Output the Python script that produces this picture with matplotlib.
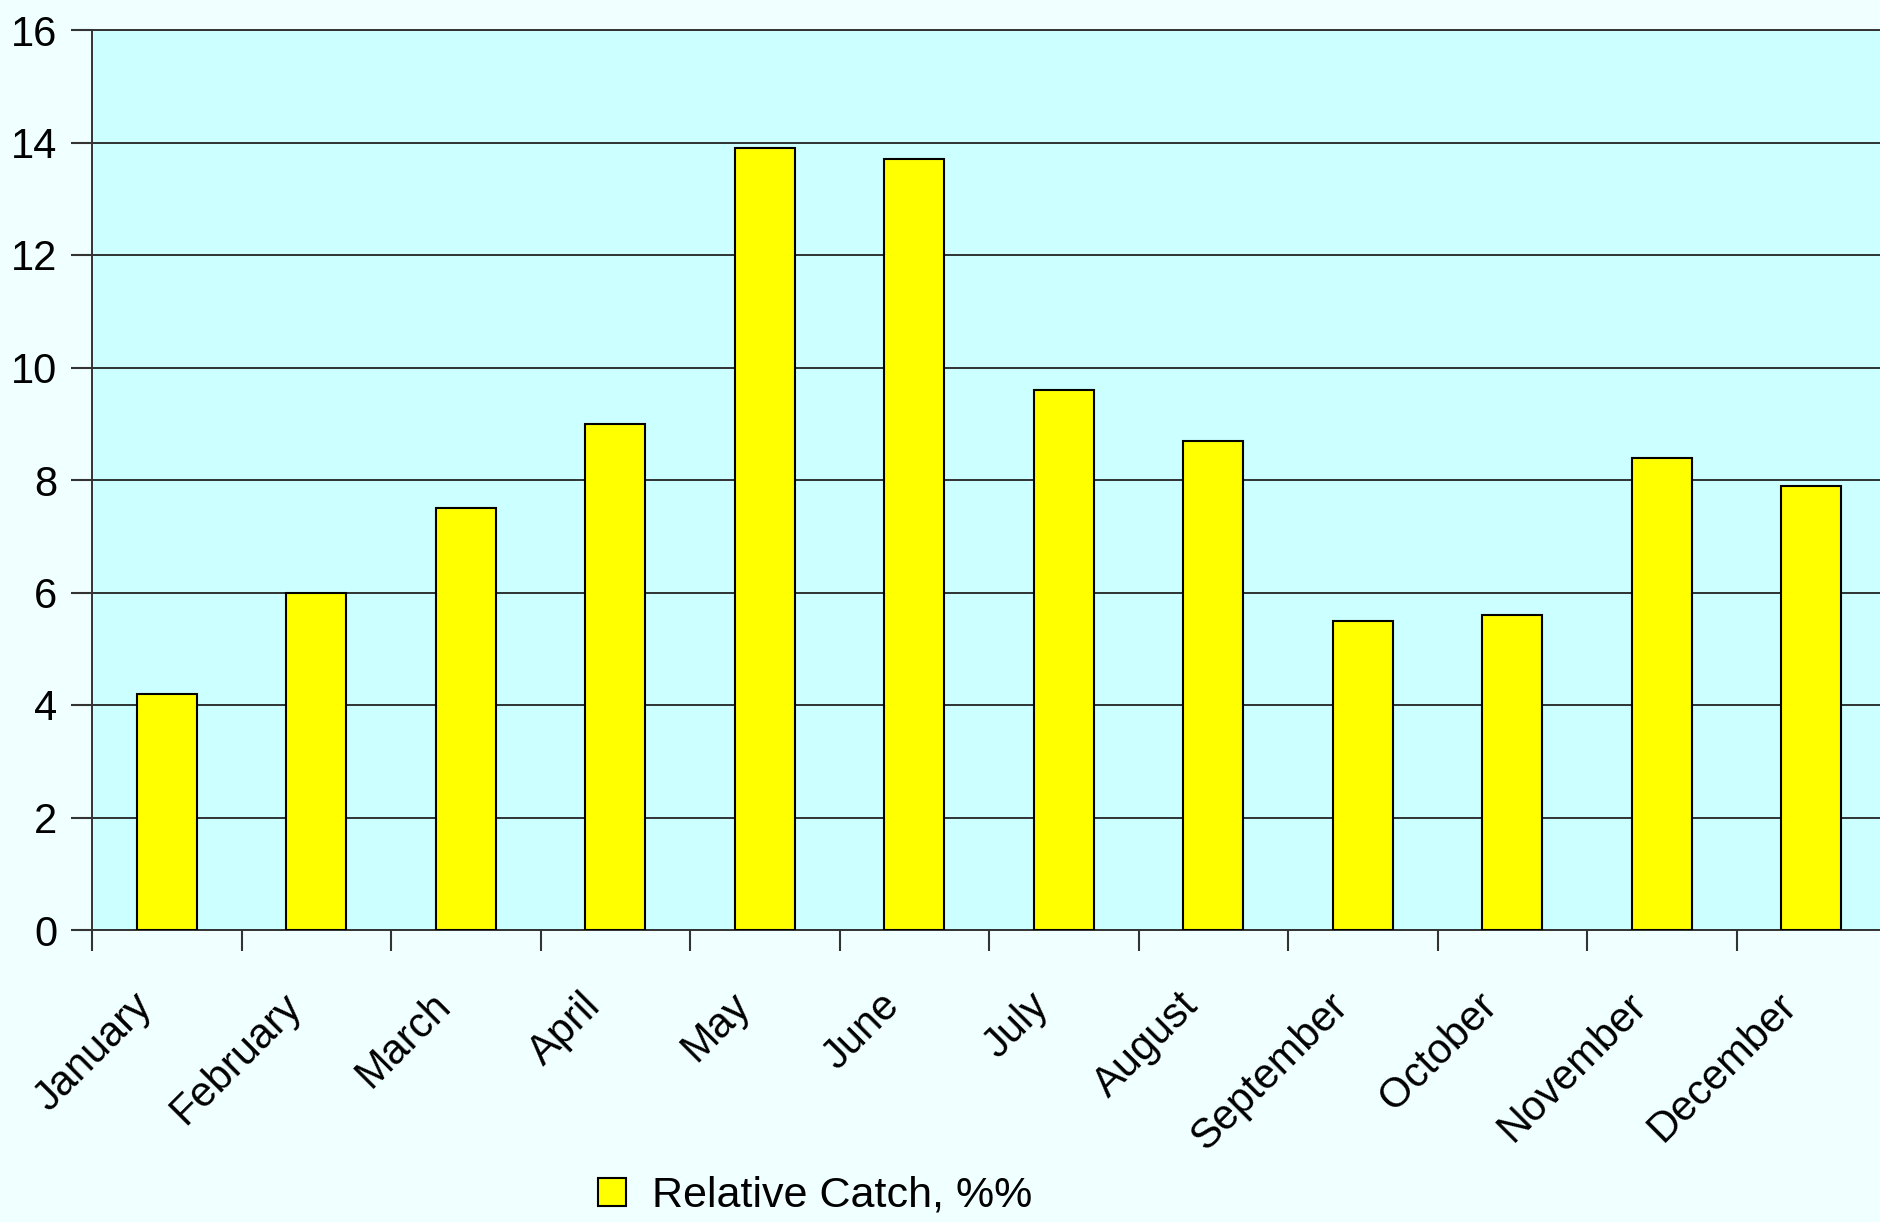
import numpy as np
import matplotlib
matplotlib.use('Agg')
import matplotlib.pyplot as plt
from matplotlib.transforms import ScaledTranslation

# data
months = ['January', 'February', 'March', 'April', 'May', 'June',
          'July', 'August', 'September', 'October', 'November', 'December']
catch = [4.2, 6.0, 7.5, 9.0, 13.9, 13.7, 9.6, 8.7, 5.5, 5.6, 8.4, 7.9]
y_ticks = [0, 2, 4, 6, 8, 10, 12, 14, 16]

plt.rcParams['font.family'] = ['Liberation Sans', 'DejaVu Sans']

W, H = 1881, 1222
fig = plt.figure(figsize=(W / 100, H / 100), dpi=100, facecolor='#F0FFFF')
# plot area runs off the right edge like in the original
ax = fig.add_axes([92 / W, 1 - 930 / H, (W - 92) / W, 900 / H])
ax.set_facecolor('#CCFFFF')

x = np.arange(len(months))
bars = ax.bar(x, catch, width=0.4, color='#FFFF00', edgecolor='black',
              linewidth=1.5, zorder=3, label='Relative Catch, %%')

ax.set_ylim(0, 16)
ax.set_xlim(-0.5, -0.5 + (W - 92) / 149.5)
ax.set_yticks(y_ticks)
ax.yaxis.grid(True, color='#222222', linewidth=1.3, zorder=1)
ax.tick_params(axis='y', labelsize=30, length=15, width=1.5, pad=10,
               color='#333333')

# ticks between categories, labels at centres
ax.set_xticks(np.arange(len(months)) - 0.5)
ax.set_xticklabels([])
ax.tick_params(axis='x', which='major', length=15, width=1.5, color='#333333')
ax.set_xticks(x, minor=True)
ax.set_xticklabels(months, minor=True, rotation=45, ha='right',
                   rotation_mode='anchor', fontsize=30)
ax.tick_params(axis='x', which='minor', length=0, pad=40)
shift = ScaledTranslation(-35 / 100, 0, fig.dpi_scale_trans)
for lbl in ax.get_xticklabels(minor=True):
    lbl.set_transform(lbl.get_transform() + shift)

ax.spines['right'].set_visible(False)
for s in ['top', 'left', 'bottom']:
    ax.spines[s].set_color('#333333')
    ax.spines[s].set_linewidth(1.4)

fig.legend(handles=[bars], labels=['Relative Catch, %%'], loc='center',
           bbox_to_anchor=(815 / W, 1 - 1196 / H), frameon=False,
           fontsize=31, handlelength=0.65, handleheight=0.65, handletextpad=0.6)

fig.savefig('out.png', dpi=100, facecolor=fig.get_facecolor())
